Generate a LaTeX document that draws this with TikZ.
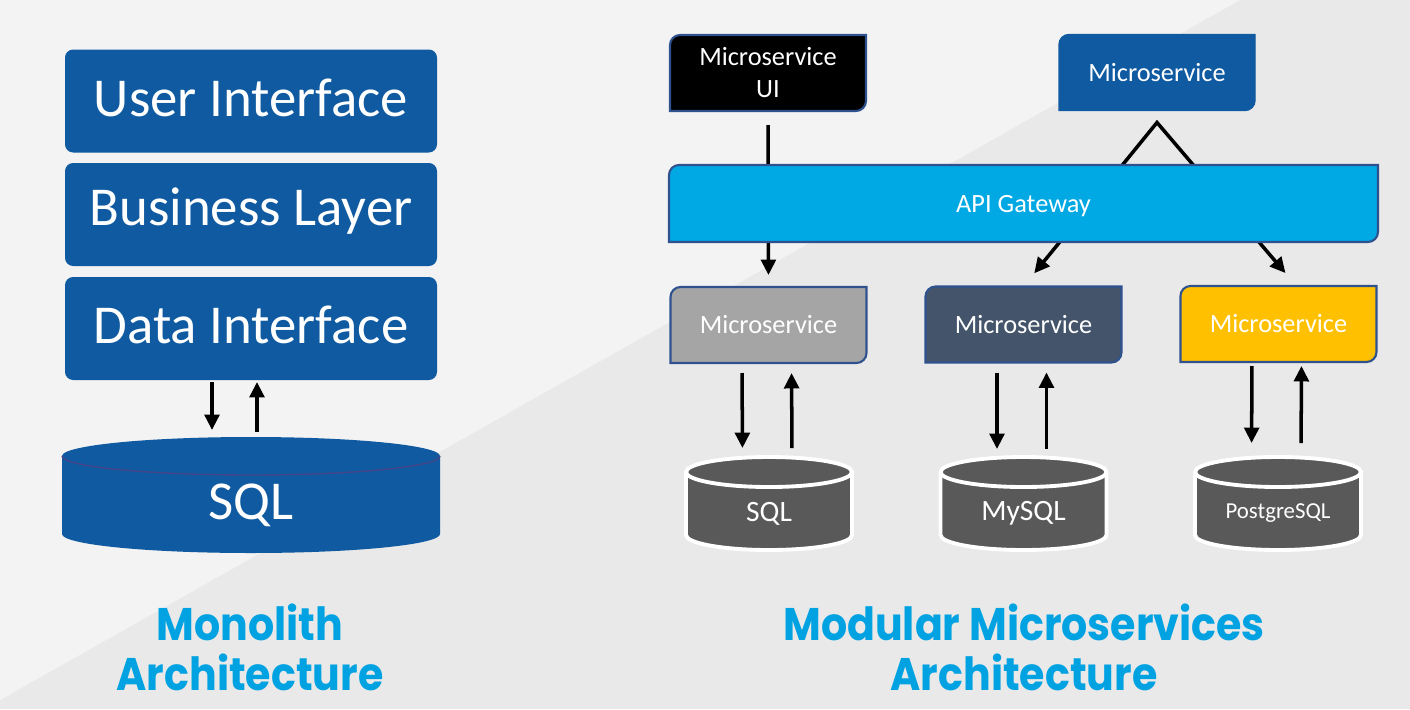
\documentclass[tikz,border=0pt]{standalone}
\usepackage{fontspec}
\setmainfont{Carlito}
\newfontfamily\headfont{Poppins}[FakeStretch=0.9]
\usetikzlibrary{calc,arrows.meta}

\definecolor{paperlight}{RGB}{243,243,243}
\definecolor{paperdark}{RGB}{233,233,233}
\definecolor{monoblue}{RGB}{15,90,160}
\definecolor{monoedge}{RGB}{70,70,140}
\definecolor{gateblue}{RGB}{0,168,228}
\definecolor{edgeblue}{RGB}{47,82,143}
\definecolor{greyfill}{RGB}{165,165,165}
\definecolor{slatefill}{RGB}{68,84,106}
\definecolor{goldfill}{RGB}{255,192,0}
\definecolor{drumfill}{RGB}{89,89,89}
\definecolor{titleblue}{RGB}{0,162,226}

\pgfdeclarelayer{bg}
\pgfdeclarelayer{lines}
\pgfdeclarelayer{boxes}
\pgfsetlayers{bg,lines,boxes,main}

\def\tabbox[#1](#2){\begin{pgfonlayer}{boxes}\draw[#1] ([yshift=1mm]#2.south west) -- ([yshift=-1mm]#2.north west) arc (180:90:1mm) -- (#2.north east) -- ([yshift=1mm]#2.south east) arc (0:-90:1mm) -- (#2.south west) -- cycle;\end{pgfonlayer}}
\def\drum[#1][#2](#3)(#4:#5){\begin{pgfonlayer}{boxes}\draw[#1] ([yshift=-#5]#3.north west) -- ([yshift=#5]#3.south west) arc (180:360:#4 and #5) -- ([yshift=-#5]#3.north east) arc (0:180:#4 and #5) -- cycle;
\draw[#2] ([yshift=-#5]#3.north west) arc (180:360:#4 and #5);\end{pgfonlayer}}
\newcommand{\lowered}[2][1mm]{\raisebox{-#1}[\height][\depth]{#2}}

\tikzset{
  stackbox/.style={fill=monoblue, rounded corners=2.3pt, text=white, minimum width=37.2mm, minimum height=10.3mm, inner sep=0pt, outer sep=0pt, font=\fontsize{15.6}{18}\selectfont},
  svcbox/.style={text=white, minimum width=19.6mm, minimum height=7.6mm, inner sep=0pt, outer sep=0pt, align=center, font=\fontsize{7.5}{9.1}\selectfont},
  dbnode/.style={text=white, inner sep=0pt, outer sep=0pt},
  flow/.style={line width=1pt, -{Triangle[width=4.2pt,length=4.4pt]}},
  headline/.style={text=titleblue, align=center, font=\headfont\bfseries\fontsize{13}{14.2}\selectfont}
}

\begin{document}
\begin{tikzpicture}[x=0.1mm,y=-0.1mm]
  \useasboundingbox (0,0) rectangle (1410,709);
  \begin{pgfonlayer}{bg}
    \fill[paperdark] (0,0) rectangle (1410,709);
    \fill[paperlight] (0,0) -- (1240,0) -- (0,700) -- cycle;
  \end{pgfonlayer}

  %% monolith
  \node[stackbox] (uilayer) at (251,101) {\lowered[-0.35mm]{User Interface}};
  \node[stackbox] (bizlayer) at (251,214.5) {\lowered[-0.35mm]{Business Layer}};
  \node[stackbox] (datalayer) at (251,328.5) {\lowered[-0.35mm]{Data Interface}};
  \node[dbnode, minimum width=37.8mm, minimum height=11.6mm, font=\fontsize{15.6}{18}\selectfont] (sqlmono) at (251,495) {\lowered{SQL}};
  \drum[fill=monoblue, draw=none][line width=0.4pt, monoedge](sqlmono)(18.9mm:1.9mm)

  \node[headline] (monotitle) at (250,647) {Monolith\\Architecture};

  %% microservices
  \node[svcbox] (uiservice) at (768,73) {Microservice\\UI};
  \tabbox[fill=black, draw=edgeblue, line width=0.6pt](uiservice)
  \node[svcbox] (topservice) at (1157,72.5) {Microservice};
  \tabbox[fill=monoblue, draw=monoblue](topservice)
  \node[svcbox, minimum width=70.9mm, minimum height=7.7mm] (gateway) at (1023.5,203.5) {\lowered[0.3mm]{API Gateway}};
  \tabbox[fill=gateblue, draw=edgeblue, line width=0.6pt](gateway)

  \node[svcbox] (greyservice) at (768.5,325) {Microservice};
  \tabbox[fill=greyfill, draw=edgeblue, line width=0.6pt](greyservice)
  \node[svcbox] (slateservice) at (1023.5,324.5) {Microservice};
  \tabbox[fill=slatefill, draw=edgeblue, line width=0.6pt](slateservice)
  \node[svcbox] (goldservice) at (1278.5,324) {Microservice};
  \tabbox[fill=goldfill, draw=edgeblue, line width=0.6pt](goldservice)

  \node[dbnode, minimum width=16.6mm, minimum height=9.3mm, font=\fontsize{8.4}{10}\selectfont] (dbsql) at (769,503.5) {\lowered{SQL}};
  \drum[fill=drumfill, draw=white, line width=1.1pt][draw=white, line width=1.1pt](dbsql)(8.3mm:1.5mm)
  \node[dbnode, minimum width=16.6mm, minimum height=9.3mm, font=\fontsize{8.4}{10}\selectfont] (dbmysql) at (1023.5,503.5) {\lowered{MySQL}};
  \drum[fill=drumfill, draw=white, line width=1.1pt][draw=white, line width=1.1pt](dbmysql)(8.3mm:1.5mm)
  \node[dbnode, minimum width=16.6mm, minimum height=9.3mm, font=\fontsize{6.5}{8}\selectfont] (dbpg) at (1278,503.5) {\lowered{PostgreSQL}};
  \drum[fill=drumfill, draw=white, line width=1.1pt][draw=white, line width=1.1pt](dbpg)(8.3mm:1.5mm)

  \node[headline] (microtitle) at (1024,647) {Modular Microservices\\Architecture};

  %% connectors
  \begin{pgfonlayer}{lines}
    \draw[flow, shorten <=0.2mm, shorten >=0.7mm] ([xshift=-3.9mm]datalayer.south) -- ([xshift=-3.9mm]sqlmono.north);
    \draw[flow, shorten <=0.5mm, shorten >=0.2mm] ([xshift=0.6mm]sqlmono.north) -- ([xshift=0.6mm]datalayer.south);

    \draw[flow, shorten <=1.4mm, shorten >=1.2mm] (uiservice.south) -- (greyservice.north);
    \coordinate (apex) at ([yshift=-1.2mm]topservice.south);
    \draw[line width=1pt, line join=miter, {Triangle[width=4.2pt,length=4.4pt]}-{Triangle[width=4.2pt,length=4.4pt]}, shorten <=1.7mm, shorten >=1.7mm] (slateservice.north) -- (apex) -- ([xshift=1.8mm]goldservice.north);

    \foreach \svc/\db/\up/\dn in {greyservice/dbsql/1/0.9, slateservice/dbmysql/1/0.8, goldservice/dbpg/0.4/1.4}{
      \draw[flow, shorten <=\up mm, shorten >=\dn mm] ([xshift=-2.65mm]\svc.south) -- ([xshift=-2.65mm]\db.north);
      \draw[flow, shorten <=\dn mm, shorten >=\up mm] ([xshift=2.3mm]\db.north) -- ([xshift=2.3mm]\svc.south);
    }
  \end{pgfonlayer}
\end{tikzpicture}
\end{document}
